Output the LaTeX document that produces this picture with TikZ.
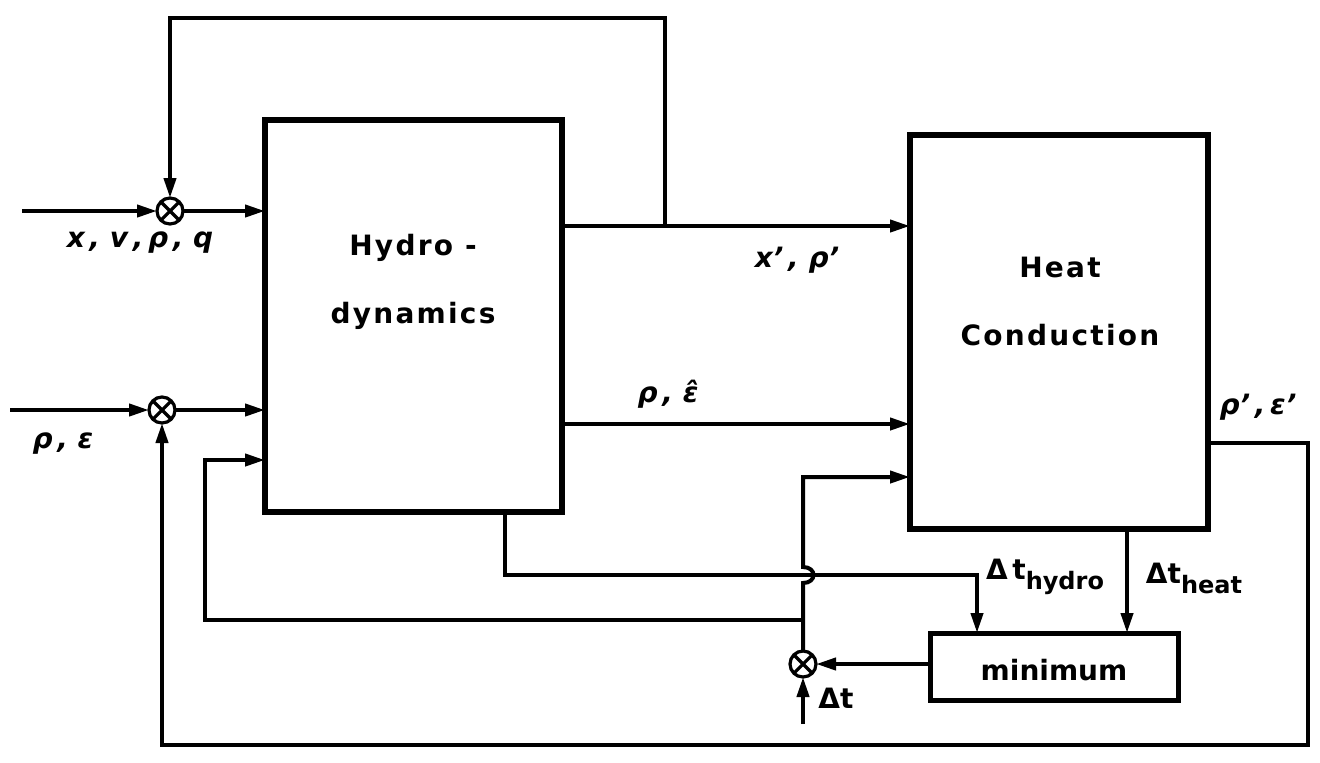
\documentclass[tikz,border=0pt]{standalone}
\usepackage{fontspec}
\setmainfont{DejaVu Sans}
\newfontfamily\boxfont{DejaVu Sans}[LetterSpace=8]
\usetikzlibrary{arrows.meta,calc}
\begin{document}
\begin{tikzpicture}[x=0.5pt,y=-0.5pt,
  box/.style={draw, line width=3pt, inner sep=0pt, outer sep=0pt},
  wire/.style={line width=2pt},
  arr/.style={wire, -{Triangle[length=10pt,width=6pt]}},
  junc/.style={draw, circle, line width=1.6pt, minimum size=13pt, inner sep=0pt, outer sep=0pt, fill=white},
  boxtext/.style={font=\boxfont\bfseries\fontsize{14}{16}\selectfont, inner sep=0pt},
  mintext/.style={font=\bfseries\fontsize{14}{16}\selectfont, inner sep=0pt},
  lbl/.style={font=\bfseries\itshape\fontsize{14}{16}\selectfont, inner sep=0pt},
  dtl/.style={font=\bfseries\fontsize{14}{16}\selectfont, inner sep=0pt},
]
\useasboundingbox (0,0) rectangle (1320,762);

% blocks
\node[box, minimum width=148.5pt, minimum height=196pt] (hyd) at (413.5,316) {};
\node[box, minimum width=149pt, minimum height=197pt] (heat) at (1059,332) {};
\node[box, line width=2.5pt, minimum width=124pt, minimum height=33.5pt] (min) at (1054,666.5) {};

\node[boxtext, anchor=base] (thyd1) at (413,255) {Hydro -};
\node[boxtext, anchor=base] (thyd2) at (413,323) {dynamics};
\node[boxtext, anchor=base] (theat1) at (1060,277) {Heat};
\node[boxtext, anchor=base] (theat2) at (1060,345) {Conduction};
\node[mintext, anchor=base] (tmin) at (1054,680) {minimum};

% junctions
\node[junc] (c1) at (170,211) {};
\node[junc] (c2) at (162,410) {};
\node[junc] (c3) at (803,664) {};
\foreach \c in {c1,c2,c3}
  \draw[line width=1.6pt] (\c.45) -- (\c.225) (\c.135) -- (\c.315);

% coordinates
\coordinate (in1) at (22,211);
\coordinate (in2) at (10,410);
\coordinate (tap1) at (665,226);
\coordinate (top) at (665,18);
\coordinate (re) at (700,424);
\coordinate (j1) at (803,620);
\coordinate (fb) at (205,620);
\coordinate (fbin) at (205,460);
\coordinate (h1) at (803,583);
\coordinate (h2) at (803,567);
\coordinate (vtop) at (803,477);
\coordinate (hb) at (505,575);
\coordinate (hmin) at (977,575);
\coordinate (dth) at (1127,580);
\coordinate (dtin) at (803,724);
\coordinate (o1) at (1308,443);
\coordinate (o2) at (1308,745);
\coordinate (o3) at (162,745);

% connectors
\draw[arr] (in1) -- (c1.west);
\draw[arr] (c1.east) -- (c1.east -| hyd.west);
\draw[arr] (hyd.east |- tap1) -- (heat.west |- tap1);
\draw[arr] (tap1) -- (top) -| (c1.north);
\draw[arr] (in2) -- (c2.west);
\draw[arr] (c2.east) -- (c2.east -| hyd.west);
\draw[arr] (hyd.east |- re) -- (heat.west |- re);
\draw[arr] (j1) -- (fb) -- (fbin) -- (hyd.west |- fbin);
\draw[arr] (c3.north) -- (h1) .. controls +(14,0) and +(14,0) .. (h2) -- (vtop) -- (heat.west |- vtop);
\draw[arr] (hyd.south -| hb) -- (hb) -- (hmin) -- (hmin |- min.north);
\draw[arr] (heat.south -| dth) -- (min.north -| dth);
\draw[arr] (min.west |- c3.east) -- (c3.east);
\draw[arr] (dtin) -- (c3.south);
\draw[arr] (heat.east |- o1) -- (o1) -- (o2) -- (o3) -- (c2.south);

% labels
\node[lbl] (lx) at (140,243) {x\,,\ v\,,\,ρ\,,\ q};
\node[lbl] (lre) at (63,444) {ρ\,,\ ε};
\node[lbl] (lxp) at (797,260) {x’\,,\ ρ’};
\node[lbl] (lreh) at (668,394) {ρ\,,\ ε̂};
\node[lbl] (lrep) at (1258,407) {ρ’\,,\,ε’};
\node[dtl] (ldth) at (1045,577) {Δ\,t\raisebox{-5pt}{\fontsize{12}{14}\selectfont hydro}};
\node[dtl] (ldtq) at (1194,578) {Δt\raisebox{-5pt}{\fontsize{12}{14}\selectfont heat}};
\node[dtl] (ldt) at (836,698) {Δt};
\end{tikzpicture}
\end{document}
